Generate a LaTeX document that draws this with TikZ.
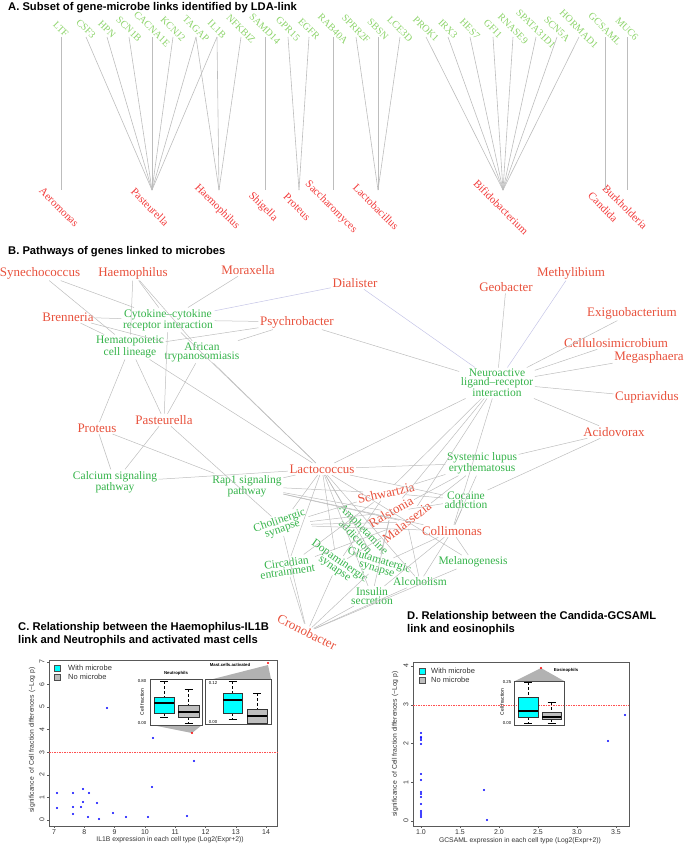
\documentclass[tikz,border=0pt]{standalone}
\usepackage{fontspec}
\setmainfont{Liberation Serif}
\setsansfont{Liberation Sans}
\usepackage{xcolor}
\usepackage{tikz}
\usetikzlibrary{calc,positioning}

\definecolor{geneA}{HTML}{8ED46C}
\definecolor{bugA}{HTML}{F23A3A}
\definecolor{bugB}{HTML}{E8513C}
\definecolor{pathB}{HTML}{35B34A}
\definecolor{edge}{HTML}{BDBDBD}
\definecolor{lav}{HTML}{C5C5E6}
\definecolor{boxcyan}{HTML}{00FFFF}
\definecolor{boxgray}{HTML}{BEBEBE}
\definecolor{threshred}{HTML}{FF5050}

\tikzset{
  heading/.style={anchor=west, align=left, inner sep=0pt, font=\sffamily\bfseries\fontsize{11.2}{13.5}\selectfont},
  gene/.style={rotate=-45, inner sep=0pt, text=geneA, font=\fontsize{10}{10}\selectfont},
  bugA/.style={rotate=-45, inner sep=0pt, text=bugA, font=\fontsize{11}{11}\selectfont},
  glink/.style={draw=edge, line width=0.6pt},
  bug/.style={text=bugB, inner sep=1.5pt, font=\fontsize{13}{13}\selectfont},
  pathw/.style={text=pathB, inner sep=1.5pt, align=center, font=\fontsize{11.5}{8.7}\selectfont},
  ticklab/.style={inner sep=0pt, font=\sffamily\fontsize{7}{7}\selectfont, text=black!80},
  axtitle/.style={inner sep=0pt, font=\sffamily\fontsize{6.8}{7}\selectfont, text=black!80},
  plotframe/.style={draw=black!65, line width=0.7pt},
  thresh/.style={draw=threshred, dash pattern=on 1.5pt off 1pt, line width=0.6pt},
  bluedot/.style={fill=blue},
  legtxt/.style={anchor=west, inner sep=0pt, font=\sffamily\fontsize{7.5}{8}\selectfont, text=black!80},
  callout/.style={fill=black!30},
  boxframe/.style={draw=black!70, line width=0.6pt},
  mini/.style={inner sep=0pt, font=\sffamily\fontsize{4.3}{5}\selectfont},
}

% box plot: x left, x right, whisker top, box top, median, box bottom, whisker bottom, fill
\newcommand{\bxp}[8]{%
  \draw[densely dashed, line width=0.4pt] ({(#1+#2)/2},#3) -- ({(#1+#2)/2},#4) ({(#1+#2)/2},#6) -- ({(#1+#2)/2},#7);
  \draw[line width=0.5pt] ({(#1+#2)/2-4},#3) -- ({(#1+#2)/2+4},#3) ({(#1+#2)/2-4},#7) -- ({(#1+#2)/2+4},#7);
  \filldraw[fill=#8, draw=black!80, line width=0.5pt] (#1,#4) rectangle (#2,#6);
  \draw[line width=1.2pt] (#1,#5) -- (#2,#5);
}

\begin{document}
\begin{tikzpicture}[x=1pt,y=-1pt]
    \useasboundingbox (0,0) rectangle (685,846);

    % A. gene-microbe links
    \node[heading] (tA) at (8,8) {A. Subset of gene-microbe links identified by LDA-link};

    \foreach \g/\x in {LTF/61, CSF3/86, HPN/107, SCN1B/129, CACNA1E/152, KCNJ2/173, TAGAP/196, IL1B/217,
        NFKBIZ/241, SAMD14/265, GPR15/288, EGFR/309, RAB40A/333, SPRR2F/356, SBSN/378, LCE3D/400,
        PROK1/426, IRX3/448, HES7/470, GFI1/493, RNASE9/513, SPATA31D1/536, SCN5A/557, HORMAD1/579,
        GCSAML/605, MUC6/627} {
        \node[gene] (\g) at (\x,29) {\g};
        \coordinate (\g-top) at (\x,37);
    }

    \foreach \m/\x/\t in {aer/61/Aeromonas, pas/152/Pasteurella, hae/219/Haemophilus, shi/265/Shigella,
        pro/299/Proteus, sac/333/Saccharomyces, lac/378/Lactobacillus, bif/503/Bifidobacterium,
        can/605/Candida, bur/627/Burkholderia} {
        \coordinate (a-\m) at (\x,190);
        \node[bugA] (a-\m-lab) at (\x-2,207) {\t};
    }

    \foreach \g/\m in {LTF/aer, CSF3/pas, HPN/pas, SCN1B/pas, CACNA1E/pas, KCNJ2/pas, TAGAP/pas, TAGAP/hae,
        IL1B/pas, IL1B/hae, NFKBIZ/hae, SAMD14/shi, GPR15/pro, EGFR/pro, RAB40A/sac, SPRR2F/lac, SBSN/lac,
        LCE3D/lac, PROK1/bif, IRX3/bif, HES7/bif, GFI1/bif, RNASE9/bif, SPATA31D1/bif, SCN5A/bif,
        HORMAD1/bif, GCSAML/can, MUC6/bur}
        \draw[glink] (\g-top) -- (a-\m);

    % B. pathways
    \node[heading] (tB) at (8,252) {B. Pathways of genes linked to microbes};

    % microbes
    \node[bug] (syn) at (40,273) {Synechococcus};
    \node[bug] (hae) at (133,273) {Haemophilus};
    \node[bug] (mor) at (248,270) {Moraxella};
    \node[bug] (dia) at (355,283) {Dialister};
    \node[bug] (bre) at (68,317) {Brenneria};
    \node[bug] (psy) at (297,322) {Psychrobacter};
    \node[bug] (pst) at (164,420) {Pasteurella};
    \node[bug] (prt) at (97,428) {Proteus};
    \node[bug] (geo) at (506,287) {Geobacter};
    \node[bug] (met) at (571,273) {Methylibium};
    \node[bug] (exi) at (632,313) {Exiguobacterium};
    \node[bug] (cel) at (616,343) {Cellulosimicrobium};
    \node[bug] (meg) at (649,357) {Megasphaera};
    \node[bug] (cup) at (647,397) {Cupriavidus};
    \node[bug] (aci) at (614,432) {Acidovorax};
    \node[bug] (lcc) at (322,469) {Lactococcus};
    \node[bug, rotate=13] (sch) at (386,493) {Schwartzia};
    \node[bug, rotate=30] (ral) at (391,512) {Ralstonia};
    \node[bug, rotate=38] (mal) at (407,522) {Malassezia};
    \node[bug] (col) at (452,531) {Collimonas};
    \node[bug, rotate=-27] (cro) at (307,632) {Cronobacter};

    % pathways
    \node[pathw] (cyt) at (168,320) {Cytokine--cytokine\\receptor interaction};
    \node[pathw] (hem) at (130,347) {Hematopoietic\\cell lineage};
    \node[pathw] (afr) at (202,352) {African\\trypanosomiasis};
    \node[pathw] (neu) at (497,383) {Neuroactive\\ligand--receptor\\interaction};
    \node[pathw] (cal) at (115,482) {Calcium signaling\\pathway};
    \node[pathw] (rap) at (247,486) {Rap1 signaling\\pathway};
    \node[pathw] (sle) at (482,463) {Systemic lupus\\erythematosus};
    \node[pathw] (coc) at (466,500) {Cocaine\\addiction};
    \node[pathw, rotate=19] (cho) at (281,525) {Cholinergic\\synapse};
    \node[pathw, rotate=-46] (amp) at (360,533) {Amphetamine\\addiction};
    \node[pathw, rotate=8] (cir) at (287,567) {Circadian\\entrainment};
    \node[pathw, rotate=-35] (dop) at (337,565) {Dopaminergic\\synapse};
    \node[pathw, rotate=-17] (glu) at (378,565) {Glutamatergic\\synapse};
    \node[pathw] (ins) at (372,596) {Insulin\\secretion};
    \node[pathw] (alc) at (420,582) {Alcoholism};
    \node[pathw] (mel) at (473,562) {Melanogenesis};

    % links
    \foreach \a/\b in {syn/cyt, syn/hem, hae/cyt, hae/hem, hae/afr, mor/cyt, bre/cyt, bre/hem, bre/afr,
        psy/cyt, psy/hem, psy/afr, psy/neu, pst/cyt, pst/hem, pst/afr, pst/cal, pst/cho, prt/hem, prt/cal,
        prt/rap, geo/neu, exi/neu, cel/neu, meg/neu, cup/neu, aci/neu, aci/sle, aci/coc,
        lcc/cyt, lcc/hem, lcc/afr, lcc/neu, lcc/cal, lcc/rap, lcc/sle, lcc/coc, lcc/cho, lcc/amp, lcc/dop,
        lcc/glu, lcc/cir, lcc/ins, lcc/alc, lcc/mel,
        sch/neu, sch/rap, sch/sle, sch/coc, sch/cho, sch/cir, sch/dop,
        ral/neu, ral/rap, ral/sle, ral/coc, ral/cho, ral/glu, ral/ins,
        mal/neu, mal/rap, mal/sle, mal/cho, mal/dop, mal/alc, mal/cir,
        col/neu, col/rap, col/sle, col/cho, col/glu, col/ins, col/alc, col/mel, col/coc,
        cro/cho, cro/cir, cro/dop, cro/glu, cro/ins, cro/alc, cro/mel}
        \draw[glink, line width=0.5pt] (\a) -- (\b);
    \foreach \a/\b in {dia/cyt, dia/neu, met/neu}
        \draw[glink, draw=lav, line width=0.5pt] (\a) -- (\b);

    % C. Haemophilus-IL1B
    \node[heading] (tC) at (18,634) {C. Relationship between the Haemophilus-IL1B\\link and Neutrophils and activated mast cells};
    \draw[plotframe] (49,660) rectangle (277,826);
    \foreach \v [count=\i from 0] in {7,...,14} {
        \draw[plotframe, line width=0.5pt] ({54+\i*30.3},826) -- ++(0,2);
        \node[ticklab] (cx\v) at ({54+\i*30.3},832) {\v};
    }
    \foreach \v in {0,...,7} {
        \draw[plotframe, line width=0.5pt] (49,{820-\v*22.6}) -- ++(-2,0);
        \node[ticklab, rotate=90] (cy\v) at (42,{820-\v*22.6}) {\v};
    }
    \node[axtitle] (cxt) at (170,840) {IL1B expression in each cell type (Log2(Expr+2))};
    \node[axtitle, rotate=90] (cyt-t) at (32,740) {significance\ \ of Cell fraction differences (−Log p)};
    \draw[thresh] (49,752) -- (277,752);

    % legend
    \filldraw[fill=boxcyan, draw=black!70, line width=0.4pt] (54,665) rectangle (60,671);
    \filldraw[fill=boxgray, draw=black!70, line width=0.4pt] (54,674) rectangle (60,680);
    \node[legtxt] (cl1) at (68,668) {With microbe};
    \node[legtxt] (cl2) at (68,677) {No microbe};

    \foreach \px/\py in {57/793, 57/808, 73/793, 73/807, 73/814, 83/789, 83/802, 81/807, 89/793, 88/817,
        97/803, 99/819, 107/708, 113/813, 126/817, 148/817, 152/787, 153/738, 187/816, 194/761}
        \fill[bluedot] (\px,\py) circle (1.1);

    % neutrophils inset
    \fill[callout] (152,725) -- (202,725) -- (192,733) -- cycle;
    \fill[red] (192,733) circle (1.2);
    \draw[boxframe] (150,679) rectangle (202,725);
    \node[mini, font=\sffamily\bfseries\fontsize{4.3}{5}\selectfont] (cn) at (176,673) {Neutrophils};
    \node[mini] (cn1) at (142,681) {0.80};
    \node[mini] (cn2) at (142,723) {0.00};
    \node[mini, rotate=90, font=\sffamily\fontsize{5}{5}\selectfont] (cnf) at (142,702) {Cell fraction};
    \bxp{154}{174}{681}{697}{703}{713}{717}{boxcyan}
    \bxp{178}{199}{689}{705}{712}{717}{723}{boxgray}

    % mast cells inset
    \fill[callout] (213,679) -- (271,679) -- (268,665) -- cycle;
    \fill[red] (268,663) circle (1.2);
    \draw[boxframe] (205,679) rectangle (271,724);
    \node[mini, font=\sffamily\bfseries\fontsize{4.3}{5}\selectfont] (cm) at (230,665) {Mast.cells.activated};
    \node[mini] (cm1) at (213,683) {0.12};
    \node[mini] (cm2) at (213,722) {0.00};
    \bxp{223}{242}{681}{693}{700}{713}{719}{boxcyan}
    \bxp{247}{267}{693}{709}{716}{723}{723}{boxgray}

    % D. Candida-GCSAML
    \node[heading] (tD) at (407,623) {D. Relationship between the Candida-GCSAML\\link and eosinophils};
    \draw[plotframe] (413,662) rectangle (629,826);
    \foreach \v [count=\i from 0] in {1.0,1.5,2.0,2.5,3.0,3.5} {
        \draw[plotframe, line width=0.5pt] ({421+\i*39},826) -- ++(0,2);
        \node[ticklab] (dx\i) at ({421+\i*39},832) {\v};
    }
    \foreach \v in {0,...,4} {
        \draw[plotframe, line width=0.5pt] (413,{821-\v*38.75}) -- ++(-2,0);
        \node[ticklab, rotate=90] (dy\v) at (406,{821-\v*38.75}) {\v};
    }
    \node[axtitle] (dxt) at (520,841) {GCSAML expression in each cell type (Log2(Expr+2))};
    \node[axtitle, rotate=90] (dyt) at (395,744) {significance\ \ of Cell fraction differences (−Log p)};
    \draw[thresh] (413,705) -- (629,705);

    % legend
    \filldraw[fill=boxcyan, draw=black!70, line width=0.4pt] (419,668) rectangle (425,674);
    \filldraw[fill=boxgray, draw=black!70, line width=0.4pt] (419,677) rectangle (425,683);
    \node[legtxt] (dl1) at (431,671) {With microbe};
    \node[legtxt] (dl2) at (431,680) {No microbe};

    \foreach \py in {733, 737, 738, 740, 744, 774, 780, 792, 794, 797, 804, 811, 813, 815, 817}
        \fill[bluedot] (421,\py) circle (1.1);
    \foreach \px/\py in {484/790, 487/820, 608/741, 625/715}
        \fill[bluedot] (\px,\py) circle (1.1);

    % eosinophils inset
    \fill[callout] (515,681) -- (564,681) -- (541,668) -- cycle;
    \fill[red] (541,668) circle (1.2);
    \draw[boxframe] (514,681) rectangle (564,725);
    \node[mini, font=\sffamily\bfseries\fontsize{4.3}{5}\selectfont] (de) at (566,670) {Eosinophils};
    \node[mini] (de1) at (507,682) {0.25};
    \node[mini] (de2) at (507,723) {0.00};
    \node[mini, rotate=90, font=\sffamily\fontsize{5}{5}\selectfont] (def) at (502,702) {Cell fraction};
    \bxp{518}{538}{682}{697}{711}{717}{723}{boxcyan}
    \bxp{542}{561}{702}{712}{717}{719}{723}{boxgray}

\end{tikzpicture}
\end{document}
